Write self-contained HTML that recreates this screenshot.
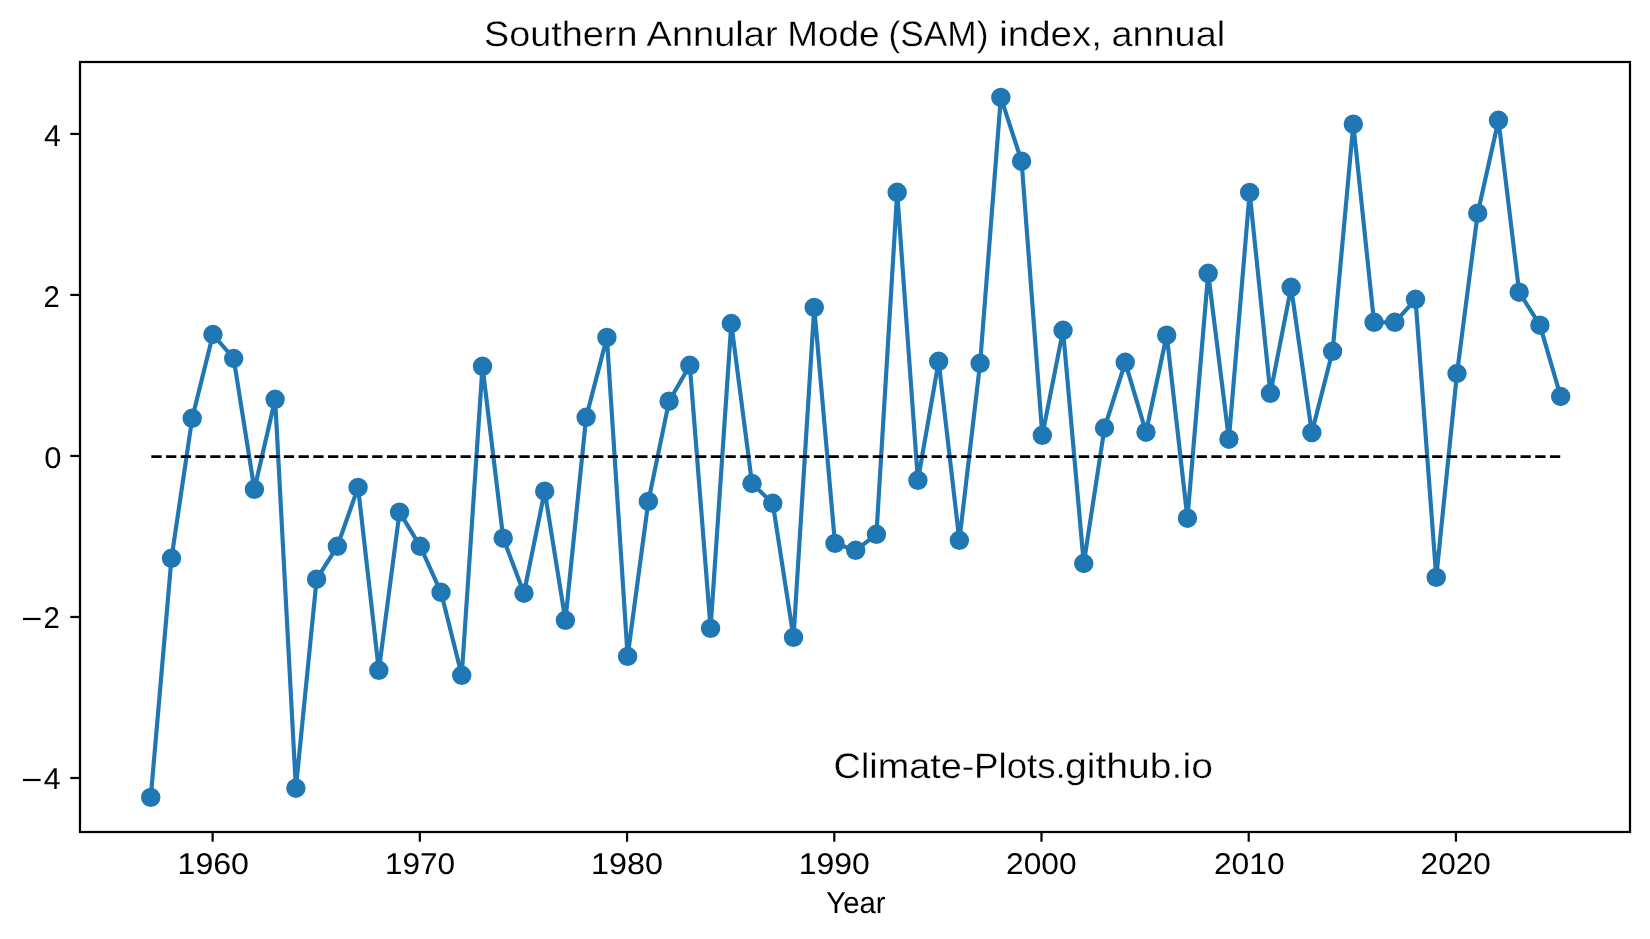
<!DOCTYPE html>
<html><head><meta charset="utf-8"><style>
html,body{margin:0;padding:0;background:#fff;}
body{width:1650px;height:939px;overflow:hidden;}
svg{display:block;font-family:"Liberation Sans",sans-serif;will-change:transform;}
</style></head><body>
<svg width="1650" height="939" viewBox="0 0 1650 939">
<rect x="0" y="0" width="1650" height="939" fill="#ffffff"/>
<polyline points="150.74,797.40 171.48,558.30 192.21,418.30 212.94,334.50 233.68,358.50 254.41,489.30 275.15,399.30 295.88,788.20 316.61,579.20 337.35,546.30 358.08,487.40 378.82,670.30 399.55,512.10 420.28,546.30 441.02,592.30 461.75,675.30 482.49,366.30 503.22,538.20 523.95,593.20 544.69,491.20 565.42,620.30 586.16,417.30 606.89,337.40 627.63,656.40 648.36,501.40 669.09,401.20 689.83,365.30 710.56,628.40 731.30,323.50 752.03,483.50 772.76,503.30 793.50,637.40 814.23,307.40 834.97,543.40 855.70,550.30 876.43,534.30 897.17,192.30 917.90,480.30 938.64,361.30 959.37,540.30 980.10,363.30 1000.84,97.40 1021.57,161.20 1042.31,435.30 1063.04,330.30 1083.77,563.50 1104.51,428.00 1125.24,362.30 1145.98,432.20 1166.71,335.20 1187.44,518.20 1208.18,273.30 1228.91,439.20 1249.65,192.40 1270.38,393.30 1291.11,287.30 1311.85,432.60 1332.58,351.30 1353.32,124.10 1374.05,322.30 1394.79,322.30 1415.52,299.30 1436.25,577.40 1456.99,373.50 1477.72,213.20 1498.46,120.30 1519.19,292.20 1539.92,325.20 1560.66,396.50" fill="none" stroke="#1f77b4" stroke-width="4.17" stroke-linejoin="round" stroke-linecap="square"/>
<g fill="#1f77b4" stroke="#1f77b4" stroke-width="2.78">
<circle cx="150.74" cy="797.40" r="8.33"/><circle cx="171.48" cy="558.30" r="8.33"/><circle cx="192.21" cy="418.30" r="8.33"/><circle cx="212.94" cy="334.50" r="8.33"/><circle cx="233.68" cy="358.50" r="8.33"/><circle cx="254.41" cy="489.30" r="8.33"/><circle cx="275.15" cy="399.30" r="8.33"/><circle cx="295.88" cy="788.20" r="8.33"/><circle cx="316.61" cy="579.20" r="8.33"/><circle cx="337.35" cy="546.30" r="8.33"/><circle cx="358.08" cy="487.40" r="8.33"/><circle cx="378.82" cy="670.30" r="8.33"/><circle cx="399.55" cy="512.10" r="8.33"/><circle cx="420.28" cy="546.30" r="8.33"/><circle cx="441.02" cy="592.30" r="8.33"/><circle cx="461.75" cy="675.30" r="8.33"/><circle cx="482.49" cy="366.30" r="8.33"/><circle cx="503.22" cy="538.20" r="8.33"/><circle cx="523.95" cy="593.20" r="8.33"/><circle cx="544.69" cy="491.20" r="8.33"/><circle cx="565.42" cy="620.30" r="8.33"/><circle cx="586.16" cy="417.30" r="8.33"/><circle cx="606.89" cy="337.40" r="8.33"/><circle cx="627.63" cy="656.40" r="8.33"/><circle cx="648.36" cy="501.40" r="8.33"/><circle cx="669.09" cy="401.20" r="8.33"/><circle cx="689.83" cy="365.30" r="8.33"/><circle cx="710.56" cy="628.40" r="8.33"/><circle cx="731.30" cy="323.50" r="8.33"/><circle cx="752.03" cy="483.50" r="8.33"/><circle cx="772.76" cy="503.30" r="8.33"/><circle cx="793.50" cy="637.40" r="8.33"/><circle cx="814.23" cy="307.40" r="8.33"/><circle cx="834.97" cy="543.40" r="8.33"/><circle cx="855.70" cy="550.30" r="8.33"/><circle cx="876.43" cy="534.30" r="8.33"/><circle cx="897.17" cy="192.30" r="8.33"/><circle cx="917.90" cy="480.30" r="8.33"/><circle cx="938.64" cy="361.30" r="8.33"/><circle cx="959.37" cy="540.30" r="8.33"/><circle cx="980.10" cy="363.30" r="8.33"/><circle cx="1000.84" cy="97.40" r="8.33"/><circle cx="1021.57" cy="161.20" r="8.33"/><circle cx="1042.31" cy="435.30" r="8.33"/><circle cx="1063.04" cy="330.30" r="8.33"/><circle cx="1083.77" cy="563.50" r="8.33"/><circle cx="1104.51" cy="428.00" r="8.33"/><circle cx="1125.24" cy="362.30" r="8.33"/><circle cx="1145.98" cy="432.20" r="8.33"/><circle cx="1166.71" cy="335.20" r="8.33"/><circle cx="1187.44" cy="518.20" r="8.33"/><circle cx="1208.18" cy="273.30" r="8.33"/><circle cx="1228.91" cy="439.20" r="8.33"/><circle cx="1249.65" cy="192.40" r="8.33"/><circle cx="1270.38" cy="393.30" r="8.33"/><circle cx="1291.11" cy="287.30" r="8.33"/><circle cx="1311.85" cy="432.60" r="8.33"/><circle cx="1332.58" cy="351.30" r="8.33"/><circle cx="1353.32" cy="124.10" r="8.33"/><circle cx="1374.05" cy="322.30" r="8.33"/><circle cx="1394.79" cy="322.30" r="8.33"/><circle cx="1415.52" cy="299.30" r="8.33"/><circle cx="1436.25" cy="577.40" r="8.33"/><circle cx="1456.99" cy="373.50" r="8.33"/><circle cx="1477.72" cy="213.20" r="8.33"/><circle cx="1498.46" cy="120.30" r="8.33"/><circle cx="1519.19" cy="292.20" r="8.33"/><circle cx="1539.92" cy="325.20" r="8.33"/><circle cx="1560.66" cy="396.50" r="8.33"/>
</g>
<line x1="151.35" y1="456.6" x2="1560.9" y2="456.6" stroke="#000" stroke-width="2.78" stroke-dasharray="10.2778 4.4444" stroke-linecap="butt"/>
<rect x="80" y="62" width="1550" height="770" fill="none" stroke="#000" stroke-width="2.22" stroke-linejoin="miter"/>
<g stroke="#000" stroke-width="2.22">
<line x1="212.62" y1="832" x2="212.62" y2="841.72"/><line x1="419.84" y1="832" x2="419.84" y2="841.72"/><line x1="627.06" y1="832" x2="627.06" y2="841.72"/><line x1="834.28" y1="832" x2="834.28" y2="841.72"/><line x1="1041.50" y1="832" x2="1041.50" y2="841.72"/><line x1="1248.72" y1="832" x2="1248.72" y2="841.72"/><line x1="1455.94" y1="832" x2="1455.94" y2="841.72"/><line x1="70.28" y1="133.94" x2="80" y2="133.94"/><line x1="70.28" y1="294.93" x2="80" y2="294.93"/><line x1="70.28" y1="455.95" x2="80" y2="455.95"/><line x1="70.28" y1="616.97" x2="80" y2="616.97"/><line x1="70.28" y1="777.99" x2="80" y2="777.99"/>
</g>
<g fill="#000">
<rect x="23.0" y="617.87" width="17.60" height="2.2"/><rect x="23.0" y="778.89" width="17.60" height="2.2"/>
</g>
<g fill="#000" stroke="#fff" stroke-width="0.3" style="text-rendering:geometricPrecision">
<text x="484.08" y="46.10" font-size="35.3" stroke-width="0.3" textLength="153.32" lengthAdjust="spacingAndGlyphs">Southern</text>
<text x="646.64" y="46.10" font-size="35.3" stroke-width="0.3" textLength="130.92" lengthAdjust="spacingAndGlyphs">Annular</text>
<text x="787.18" y="46.10" font-size="35.3" stroke-width="0.3" textLength="92.29" lengthAdjust="spacingAndGlyphs">Mode</text>
<text x="888.61" y="46.10" font-size="35.3" stroke-width="0.3" textLength="99.80" lengthAdjust="spacingAndGlyphs">(SAM)</text>
<text x="999.33" y="46.10" font-size="35.3" stroke-width="0.3" textLength="102.55" lengthAdjust="spacingAndGlyphs">index,</text>
<text x="1111.44" y="46.10" font-size="35.3" stroke-width="0.3" textLength="113.69" lengthAdjust="spacingAndGlyphs">annual</text>
<text x="826.32" y="912.90" font-size="30.0" stroke-width="0" textLength="59.15" lengthAdjust="spacingAndGlyphs">Year</text>
<text x="177.57" y="873.50" font-size="30.0" stroke-width="0" textLength="71.42" lengthAdjust="spacingAndGlyphs">1960</text>
<text x="384.92" y="873.50" font-size="30.0" stroke-width="0" textLength="70.07" lengthAdjust="spacingAndGlyphs">1970</text>
<text x="591.06" y="873.50" font-size="30.0" stroke-width="0" textLength="71.85" lengthAdjust="spacingAndGlyphs">1980</text>
<text x="798.82" y="873.50" font-size="30.0" stroke-width="0" textLength="71.06" lengthAdjust="spacingAndGlyphs">1990</text>
<text x="1006.01" y="873.50" font-size="30.0" stroke-width="0" textLength="70.54" lengthAdjust="spacingAndGlyphs">2000</text>
<text x="1213.93" y="873.50" font-size="30.0" stroke-width="0" textLength="70.62" lengthAdjust="spacingAndGlyphs">2010</text>
<text x="1420.60" y="873.50" font-size="30.0" stroke-width="0" textLength="70.14" lengthAdjust="spacingAndGlyphs">2020</text>
<text x="44.06" y="145.74" font-size="30.0" stroke-width="0" textLength="16.94" lengthAdjust="spacingAndGlyphs">4</text>
<text x="43.47" y="306.73" font-size="30.0" stroke-width="0" textLength="16.29" lengthAdjust="spacingAndGlyphs">2</text>
<text x="44.33" y="467.75" font-size="30.0" stroke-width="0" textLength="17.21" lengthAdjust="spacingAndGlyphs">0</text>
<text x="43.41" y="628.17" font-size="30.0" stroke-width="0" textLength="16.29" lengthAdjust="spacingAndGlyphs">2</text>
<text x="43.78" y="789.19" font-size="30.0" stroke-width="0" textLength="16.79" lengthAdjust="spacingAndGlyphs">4</text>
<text x="833.61" y="778.20" font-size="35.3" stroke-width="0.3" textLength="140.75" lengthAdjust="spacingAndGlyphs">Climate-</text>
<text x="974.04" y="778.20" font-size="35.3" stroke-width="0.3" textLength="91.75" lengthAdjust="spacingAndGlyphs">Plots.</text>
<text x="1065.03" y="778.20" font-size="35.3" stroke-width="0.3" textLength="147.90" lengthAdjust="spacingAndGlyphs">github.io</text>
</g>
</svg>
</body></html>
